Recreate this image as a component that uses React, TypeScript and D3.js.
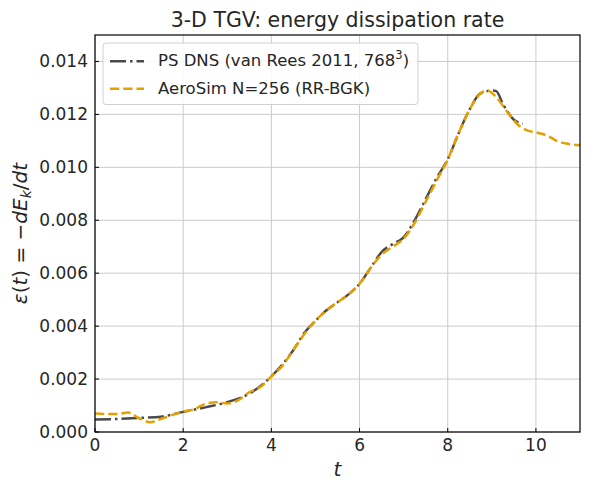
import React from 'react'
import * as d3 from 'd3'

// van Rees et al. (2011) pseudo-spectral DNS, 768^3
const dnsT = [0, 0.5, 1, 1.5, 2, 2.5, 3, 3.5, 4, 4.25, 4.5, 4.75, 5, 5.25, 5.5, 5.75, 6, 6.25, 6.5, 6.75, 7, 7.25, 7.5, 7.75, 8, 8.25, 8.5, 8.75, 9, 9.1, 9.25, 9.5, 9.7]
const dnsEps = [0.00047, 0.00049, 0.00053, 0.00058, 0.00076, 0.00093, 0.00113, 0.00145, 0.0021, 0.00255, 0.0031, 0.00375, 0.0042, 0.0046, 0.0049, 0.0052, 0.0056, 0.0062, 0.0068, 0.0071, 0.00735, 0.008, 0.0088, 0.0096, 0.0103, 0.0113, 0.0122, 0.0128, 0.0129, 0.01288, 0.0124, 0.0118, 0.01165]

// AeroSim, N=256, RR-BGK collision
const simT = [0, 0.25, 0.5, 0.75, 1, 1.25, 1.5, 2, 2.25, 2.5, 2.75, 3, 3.25, 3.5, 3.75, 4, 4.25, 4.5, 4.75, 5, 5.25, 5.5, 5.75, 6, 6.25, 6.5, 6.75, 7, 7.25, 7.5, 7.75, 8, 8.25, 8.5, 8.75, 8.9, 9.1, 9.35, 9.6, 9.8, 10, 10.25, 10.5, 10.75, 11]
const simEps = [0.0007, 0.00068, 0.00068, 0.00074, 0.00052, 0.00037, 0.0005, 0.00077, 0.00086, 0.00106, 0.00112, 0.00108, 0.0012, 0.0015, 0.0017, 0.0021, 0.0025, 0.0031, 0.0037, 0.0042, 0.0046, 0.0049, 0.0052, 0.0056, 0.0062, 0.0067, 0.007, 0.0073, 0.0079, 0.0087, 0.0095, 0.0103, 0.0113, 0.0122, 0.0128, 0.0129, 0.01265, 0.0121, 0.0116, 0.0114, 0.01132, 0.0112, 0.01098, 0.01088, 0.01083]

const xTicks = [0, 2, 4, 6, 8, 10]
const yTicks = [0, 0.002, 0.004, 0.006, 0.008, 0.01, 0.012, 0.014]

const W = 590
const H = 490
const margin = { top: 35, right: 10, bottom: 58, left: 95 }
const font = 'DejaVu Sans, sans-serif'
const txt = '#262626'
const gray = '#4a4a4a'
const orange = '#E69F00'
const dashDot = '16,4,2.5,4'
const dashed = '9.25,4'

export default function App() {
  const x = d3.scaleLinear().domain([0, 11]).range([margin.left, W - margin.right])
  const y = d3.scaleLinear().domain([0, 0.015]).range([H - margin.bottom, margin.top])

  const line = d3.line<[number, number]>()
    .x(d => x(d[0]))
    .y(d => y(d[1]))
    .curve(d3.curveMonotoneX)

  const dns = dnsT.map((t, i) => [t, dnsEps[i]] as [number, number])
  const sim = simT.map((t, i) => [t, simEps[i]] as [number, number])

  const x0 = x(0), x1 = x(11), y0 = y(0), y1 = y(0.015)

  return (
    <div style={{ position: 'absolute', left: 0, top: 0 }}>
      <svg width={W} height={H} style={{ display: 'block', background: '#fff' }} fontFamily={font}>
        <defs>
          <clipPath id="plot">
            <rect x={x0} y={y1} width={x1 - x0} height={y0 - y1} />
          </clipPath>
        </defs>

        {/* grid */}
        <g stroke="#cccccc" strokeWidth={1}>
          {xTicks.map(t => <line key={'gx' + t} x1={x(t)} x2={x(t)} y1={y1} y2={y0} />)}
          {yTicks.map(t => <line key={'gy' + t} x1={x0} x2={x1} y1={y(t)} y2={y(t)} />)}
        </g>

        {/* curves */}
        <g clipPath="url(#plot)" fill="none">
          <path d={line(dns) ?? ''} stroke={gray} strokeWidth={2.5} strokeDasharray={dashDot} />
          <path d={line(sim) ?? ''} stroke={orange} strokeWidth={2.5} strokeDasharray={dashed} />
        </g>

        {/* frame */}
        <rect x={x0} y={y1} width={x1 - x0} height={y0 - y1} fill="none" stroke="#000" strokeWidth={1.2} />

        {/* ticks (inward) and labels */}
        <g stroke="#000" strokeWidth={1}>
          {xTicks.map(t => <line key={'tx' + t} x1={x(t)} x2={x(t)} y1={y0} y2={y0 - 4} />)}
          {yTicks.map(t => <line key={'ty' + t} x1={x0} x2={x0 + 4} y1={y(t)} y2={y(t)} />)}
        </g>
        <g fontSize={17} fill={txt}>
          {xTicks.map(t => (
            <text key={'lx' + t} x={x(t)} y={y0 + 18.5} textAnchor="middle">{t}</text>
          ))}
          {yTicks.map(t => (
            <text key={'ly' + t} x={x0 - 7} y={y(t) + 6} textAnchor="end">{t.toFixed(3)}</text>
          ))}
        </g>

        {/* title */}
        <text x={(x0 + x1) / 2} y={26.7} textAnchor="middle" fontSize={20.5} fill={txt}>
          3-D TGV: energy dissipation rate
        </text>

        {/* axis labels */}
        <text x={(x0 + x1) / 2} y={476} textAnchor="middle" fontSize={20} fontStyle="italic" fill={txt}>t</text>
        <text transform={`translate(27,${(y0 + y1) / 2}) rotate(-90)`} textAnchor="middle" fontSize={20} fill={txt}>
          <tspan fontStyle="italic">ε</tspan>(<tspan fontStyle="italic">t</tspan>) = −<tspan fontStyle="italic">dE</tspan>
          <tspan fontStyle="italic" fontSize={14} dy={4}>k</tspan>
          <tspan dy={-4}>/</tspan><tspan fontStyle="italic">dt</tspan>
        </text>

        {/* legend */}
        <g>
          <rect x={103} y={43} width={315} height={61.5} rx={3} fill="#fff" fillOpacity={0.85} stroke="#d0d0d0" strokeWidth={1} />
          <line x1={110} x2={144} y1={61.3} y2={61.3} stroke={gray} strokeWidth={2.5} strokeDasharray={dashDot} />
          <line x1={110} x2={144} y1={88.7} y2={88.7} stroke={orange} strokeWidth={2.5} strokeDasharray={dashed} />
          <text x={158} y={66.3} fontSize={16.5} fill={txt}>
            PS DNS (van Rees 2011, 768<tspan fontSize={11.5} dy={-7}>3</tspan><tspan dy={7}>)</tspan>
          </text>
          <text x={158} y={94} fontSize={16.5} fill={txt}>AeroSim N=256 (RR-BGK)</text>
        </g>
      </svg>
    </div>
  )
}
